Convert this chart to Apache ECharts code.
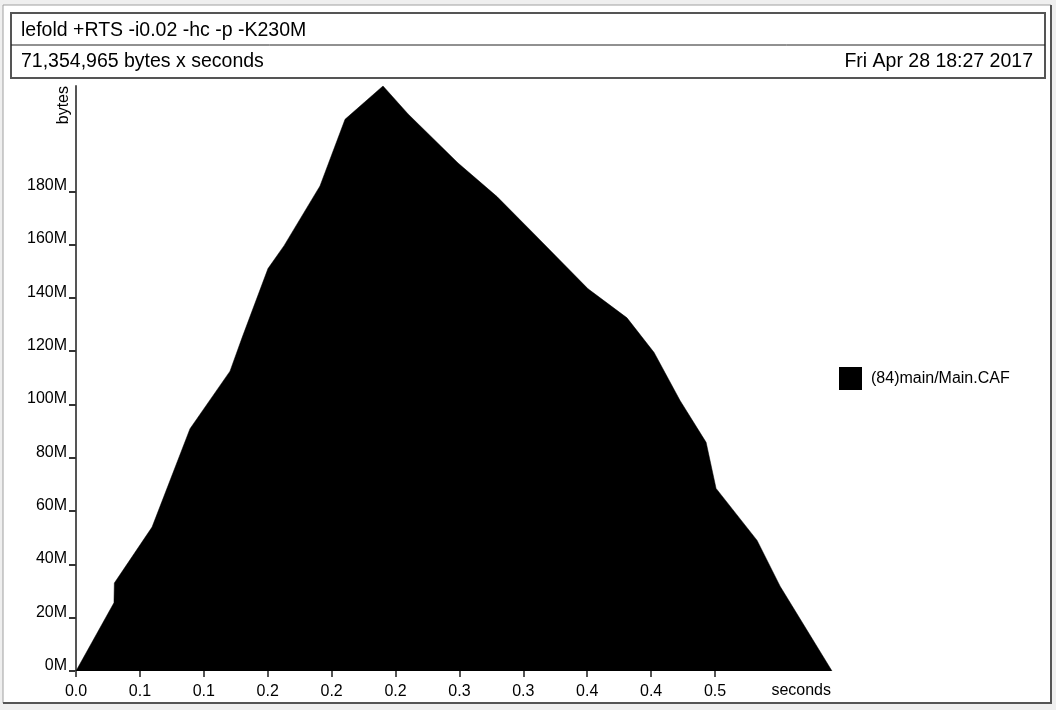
<!DOCTYPE html>
<html>
<head>
<meta charset="utf-8">
<script src="https://cdn.jsdelivr.net/npm/echarts@6/dist/echarts.min.js"></script>
<style>
html,body{margin:0;padding:0;background:#efefef;}
#chart{width:1056px;height:710px;}
</style>
</head>
<body>
<div id="chart"></div>
<script>
// ---- data ----
const seriesName = '(84)main/Main.CAF';
const times  = [0, 0.0297, 0.0300, 0.0595, 0.0892, 0.1205, 0.1299, 0.1502, 0.1628, 0.1909, 0.2105, 0.2402, 0.2598, 0.2989, 0.3294, 0.3584, 0.4006, 0.4311, 0.4523, 0.4726, 0.4930, 0.5008, 0.5329, 0.5509, 0.5915];
const bytesM = [0, 25.6, 33.0, 54.0, 90.9, 112.5, 125.0, 151.0, 159.6, 182.0, 207.0, 219.5, 209.0, 190.6, 178.0, 164.0, 143.4, 132.5, 119.5, 101.5, 85.8, 68.5, 49.0, 31.8, 0];
const xTickValues = [0, 0.05, 0.1, 0.15, 0.2, 0.25, 0.3, 0.35, 0.4, 0.45, 0.5];
const xTickLabels = ['0.0', '0.1', '0.1', '0.2', '0.2', '0.2', '0.3', '0.3', '0.4', '0.4', '0.5'];
const yTickValues = [0, 20, 40, 60, 80, 100, 120, 140, 160, 180];
const titleLine1 = 'lefold +RTS -i0.02 -hc -p -K230M';
const titleLine2 = '71,354,965 bytes x seconds';
const titleDate  = 'Fri Apr 28 18:27 2017';
const xMax = 0.5915;
const yMax = 219.5;

const FONT = 'Liberation Sans, Helvetica, Arial, sans-serif';
const chart = echarts.init(document.getElementById('chart'));
const data = times.map((t, i) => [t, bytesM[i]]);

chart.setOption({
  animation: false,
  backgroundColor: '#efefef',
  textStyle: { fontFamily: FONT },
  graphic: [
    { type: 'rect', z: -10, shape: { x: 3, y: 5, width: 1048, height: 698 },
      style: { fill: '#ffffff', stroke: '#a0a0a0', lineWidth: 1 } },
    { type: 'polyline', z: -9, shape: { points: [[1051, 5], [1051, 703], [3, 703]] },
      style: { stroke: '#555555', lineWidth: 2, fill: null } },
    { type: 'rect', z: -5, shape: { x: 11, y: 13, width: 1034, height: 65 },
      style: { fill: '#ffffff', stroke: '#555555', lineWidth: 2 } },
    { type: 'line', z: -4, shape: { x1: 11, y1: 45, x2: 1045, y2: 45 },
      style: { stroke: '#222222', lineWidth: 1 } },
    { type: 'text', x: 21, y: 31, style: { text: titleLine1, font: '19.5px ' + FONT, fill: '#000', textAlign: 'left', textVerticalAlign: 'middle' } },
    { type: 'text', x: 21, y: 62, style: { text: titleLine2, font: '19.5px ' + FONT, fill: '#000', textAlign: 'left', textVerticalAlign: 'middle' } },
    { type: 'text', x: 1033, y: 62, style: { text: titleDate, font: '19.5px ' + FONT, fill: '#000', textAlign: 'right', textVerticalAlign: 'middle' } },
    { type: 'text', x: 72, y: 86, rotation: Math.PI / 2,
      style: { text: 'bytes', font: '16px ' + FONT, fill: '#000', textAlign: 'right', textVerticalAlign: 'bottom' } },
    { type: 'text', x: 831, y: 691, style: { text: 'seconds', font: '16px ' + FONT, fill: '#000', textAlign: 'right', textVerticalAlign: 'middle' } }
  ],
  grid: { left: 76, right: 224, top: 86, bottom: 39 },
  legend: {
    left: 839, top: 367, padding: 0, orient: 'vertical',
    itemWidth: 23, itemHeight: 23,
    icon: 'rect',
    textStyle: { fontSize: 16, color: '#000', fontFamily: FONT, padding: [0, 0, 0, 4] },
    data: [seriesName]
  },
  xAxis: {
    type: 'value', min: 0, max: xMax,
    splitLine: { show: false },
    axisLine: { show: false },
    axisTick: { show: true, customValues: xTickValues, length: 6, lineStyle: { color: '#555', width: 2 } },
    axisLabel: {
      customValues: xTickValues, margin: 13, fontSize: 16, color: '#000', fontFamily: FONT,
      formatter: v => xTickLabels[Math.round(v / 0.05)]
    }
  },
  yAxis: {
    type: 'value', min: 0, max: yMax,
    splitLine: { show: false },
    axisLine: { show: true, onZero: false, lineStyle: { color: '#555', width: 2 } },
    axisTick: { show: true, customValues: yTickValues, length: 7, lineStyle: { color: '#333', width: 2 } },
    axisLabel: {
      customValues: yTickValues, margin: 9, fontSize: 16, color: '#000', fontFamily: FONT,
      verticalAlign: 'bottom', lineHeight: 11,
      formatter: v => v + 'M'
    }
  },
  series: [{
    name: seriesName,
    type: 'line',
    data: data,
    symbol: 'none',
    smooth: false,
    itemStyle: { color: '#000' },
    lineStyle: { color: '#000', width: 0.5 },
    areaStyle: { color: '#000', opacity: 1 }
  }]
});
</script>
</body>
</html>
